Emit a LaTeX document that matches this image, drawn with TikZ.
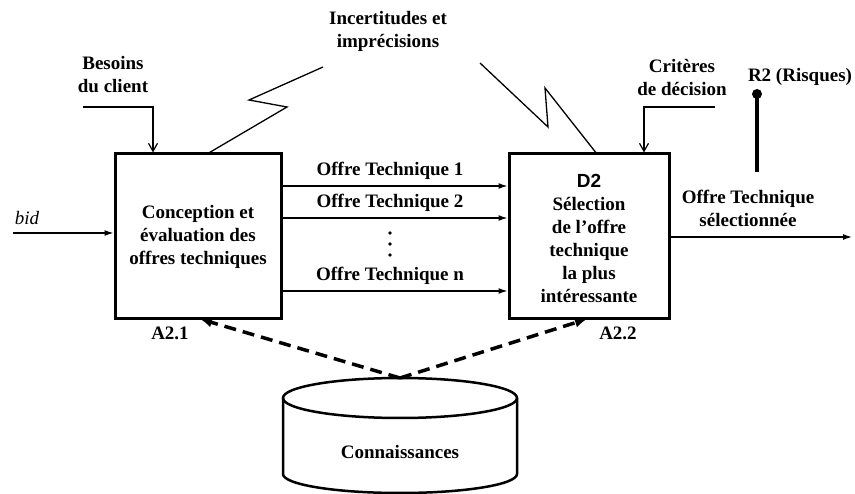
\documentclass[tikz,border=0pt]{standalone}
\usepackage{fontspec}
\setmainfont{Liberation Serif}
\newfontfamily\dsans{Liberation Sans}
\usetikzlibrary{arrows.meta}
\begin{document}
\begin{tikzpicture}[x=1pt,y=-1pt,
  font=\fontsize{19}{23}\selectfont\bfseries,
  proc/.style={draw,line width=3pt,align=center,inner sep=0pt},
  lbl/.style={align=center,inner sep=0pt},
  flow/.style={line width=1.3pt,-{Latex[length=9pt,width=6pt]}},
  ctrl/.style={line width=1.3pt,-{Straight Barb[length=8pt,width=9pt,line width=1.2pt]}},
  zig/.style={line width=1.3pt,line join=miter},
  kbarrow/.style={line width=3.5pt,dash pattern=on 12pt off 7pt,-{Latex[length=12pt,width=10pt]}}]
\useasboundingbox (0,0) rectangle (855,494);

% boxes
\node[proc,minimum width=166pt,minimum height=165pt] (b1) at (198,236.5)
  {Conception et\\évaluation des\\offres techniques};
\node[proc,minimum width=160pt,minimum height=165pt] (b2) at (589,236.5) {};
\node[lbl] (b2t) at (589,238.5) {{\dsans D2}\\Sélection\\de l’offre\\technique\\la plus\\intéressante};

\node[lbl] (a21) at (170,333) {A2.1};
\node[lbl] (a22) at (618,333) {A2.2};

% inputs
\node[lbl,font=\fontsize{19}{23}\selectfont\itshape] (bid) at (27,218) {bid};
\coordinate (bidS) at (13,233);
\draw[flow] (bidS) -- (bidS -| b1.west);

% Besoins
\node[lbl] (bes) at (113,75) {Besoins\\du client};
\coordinate (besS) at (83,107);
\coordinate (besC) at (153,107);
\draw[ctrl] (besS) -- (besC) -- (besC |- b1.north);

% Criteres
\node[lbl] (crit) at (682,77) {Critères\\de décision};
\coordinate (critS) at (715,107);
\coordinate (critC) at (644,107);
\draw[ctrl] (critS) -- (critC) -- (critC |- b2.north);

% Incertitudes
\node[lbl] (inc) at (388,31) {Incertitudes et\\imprécisions};
\coordinate (z1a) at (207,154);
\coordinate (z1b) at (287,107);
\coordinate (z1c) at (249,100);
\coordinate (z1d) at (323,67);
\draw[zig] (z1a) -- (z1b) -- (z1c) -- (z1d);
\coordinate (z2a) at (480,63);
\coordinate (z2b) at (548,127);
\coordinate (z2c) at (545,88);
\coordinate (z2d) at (597,154);
\draw[zig] (z2a) -- (z2b) -- (z2c) -- (z2d);

% offers
\coordinate (o1) at (390,186);
\coordinate (o2) at (390,218);
\coordinate (on) at (390,291);
\draw[flow] (o1 -| b1.east) -- (o1 -| b2.west);
\draw[flow] (o2 -| b1.east) -- (o2 -| b2.west);
\draw[flow] (on -| b1.east) -- (on -| b2.west);
\node[lbl] (t1) at (390,171) {Offre Technique 1};
\node[lbl] (t2) at (390,203) {Offre Technique 2};
\node[lbl] (tn) at (390,276) {Offre Technique n};
\foreach \yy in {233,244,255} \fill (390,\yy) circle (1.8pt);

% output
\coordinate (outE) at (852,237);
\draw[flow] (outE -| b2.east) -- (outE);
\node[lbl] (outl) at (748,208) {Offre Technique\\sélectionnée};

% risks
\node[lbl] (r2) at (800,77) {R2 (Risques)};
\coordinate (r2dot) at (757,94);
\coordinate (r2end) at (757,172);
\draw[line width=4pt] (r2dot) -- (r2end);
\fill (r2dot) circle (5pt);

% knowledge base
\draw[line width=2.5pt] (283,398) -- (283,474) arc[start angle=180,end angle=0,x radius=117,y radius=19] -- (517,398);
\draw[line width=2.5pt] (400,398) ellipse[x radius=117,y radius=20];
\coordinate (kbtop) at (400,378);
\node[lbl] (kb) at (400,452) {Connaissances};
\coordinate (b1d) at (200,319);
\coordinate (b2d) at (587,319);
\draw[kbarrow] (kbtop) -- (b1d);
\draw[kbarrow] (kbtop) -- (b2d);
\end{tikzpicture}
\end{document}
